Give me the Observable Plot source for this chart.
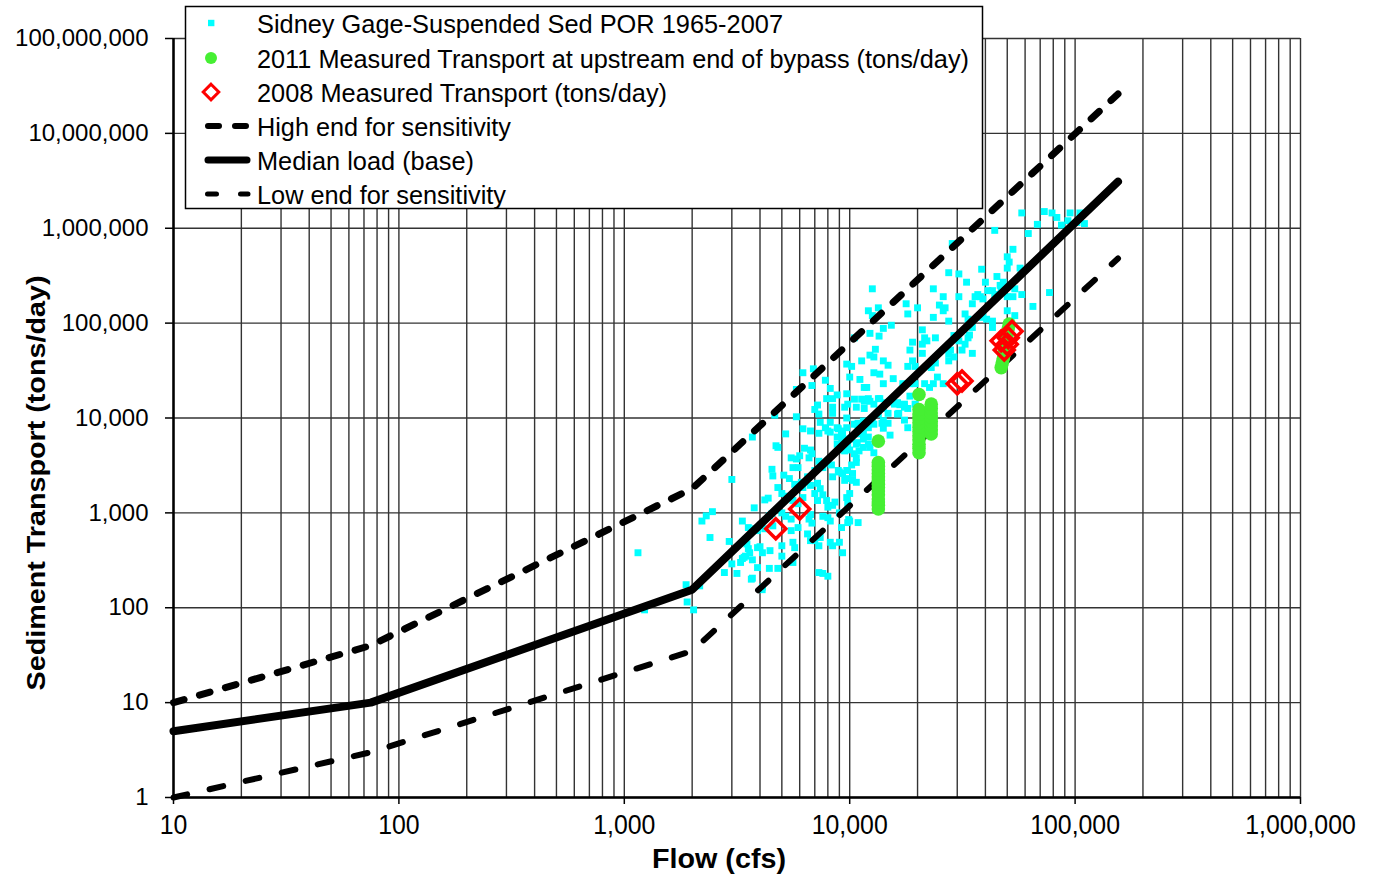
<!DOCTYPE html>
<html>
<head>
<meta charset="utf-8">
<script src="https://cdn.jsdelivr.net/npm/d3@7"></script>
<script src="https://cdn.jsdelivr.net/npm/@observablehq/plot@0.6"></script>
<style>
  html, body { margin: 0; padding: 0; background: #fff; }
  #chart { position: relative; width: 1377px; height: 876px; }
</style>
</head>
<body>
<div id="chart"></div>
<script>
// ---- tick values ----
const xDecades = [10, 100, 1000, 10000, 100000, 1000000];
const yDecades = [1, 10, 100, 1000, 10000, 100000, 1000000, 10000000, 100000000];
const minorMultipliers = [1, 2, 3, 4, 5, 6, 7, 8, 9];

// ---- curves (flow cfs, load tons/day) ----
const highEnd = [[10, 10], [75, 40], [2000, 1800], [155000, 26000000]];
const medianLoad = [[10, 5], [75, 10], [2000, 155], [155000, 3100000]];
const lowEnd = [[10, 1], [75, 3], [2000, 35], [155000, 480000]];

// ---- 2008 measured ----
const measured2008 = [[4700, 680], [6000, 1100], [30000, 23000], [31500, 24500],
  [47000, 65000], [48500, 52000], [50000, 60000], [52500, 82000], [50500, 70000]];

// ---- 2011 measured (upstream end of bypass) ----
const measured2011 = [
  [13400, 1100], [13400, 1200], [13400, 1300], [13400, 1400], [13400, 1550], [13400, 1700],
  [13400, 1850], [13400, 2000], [13400, 2200], [13400, 2400], [13400, 2600], [13400, 2850],
  [13400, 3100], [13400, 3400], [13400, 5700],
  [20300, 4300], [20300, 4800], [20300, 5300], [20300, 5900], [20300, 6500], [20300, 7200],
  [20300, 8000], [20300, 8900], [20300, 9900], [20300, 11000], [20300, 12300], [20300, 17700],
  [23000, 6800], [23000, 7500], [23000, 8300], [23000, 9200], [23000, 10200], [23000, 11300],
  [23000, 12600], [23000, 14000],
  [47000, 34000], [47500, 38000], [48000, 42000], [48500, 47000], [48500, 53000], [49000, 60000],
  [49500, 68000], [50000, 77000], [50500, 87000], [51000, 98000]
];

// ---- Sidney Gage suspended sediment, POR 1965-2007 ----
const sidneyGage = [
  [1150, 380], [1230, 95], [1880, 175], [1900, 115], [2030, 95], [2160, 170], [2210, 820], [2310, 930],
  [2460, 1030], [2400, 550], [3000, 2250], [2920, 500], [3000, 290], [2780, 235], [3160, 230], [3340, 330],
  [3280, 300], [3660, 200], [4090, 155], [3770, 1130], [3550, 700], [3340, 820], [3500, 470], [3550, 420],
  [3600, 380], [3900, 265], [4000, 440], [3800, 680], [4200, 1370], [4350, 1430], [4430, 400], [4560, 730],
  [4520, 980], [4650, 10700], [3700, 6300], [4710, 5100], [4800, 4900], [4520, 2880], [4560, 2450],
  [3900, 650], [3450, 350], [4800, 260],
  [9700, 37000], [10200, 35000], [6200, 30000], [6800, 22000], [5800, 20000], [7800, 25000], [8200, 20500],
  [8400, 16000], [7900, 16000], [9700, 18000], [10500, 15800], [11300, 15800], [11600, 15000], [10700, 13000],
  [9500, 13000], [9800, 14000], [7200, 13700], [7000, 12300], [8400, 11200], [8200, 9000], [7400, 9000],
  [5800, 10300], [6200, 7700], [6700, 7300], [7300, 6900], [5200, 6800], [7800, 7900], [8000, 7300],
  [8800, 7900], [9200, 7300], [9700, 7900], [10500, 8600], [10900, 6800], [10000, 6000], [9300, 6700],
  [8800, 5300], [8900, 4600], [9500, 4500], [10000, 4600], [10700, 5300], [11000, 4500], [10700, 3800],
  [6300, 4800], [6700, 4600], [6800, 4200], [6600, 3800], [5500, 3800], [5800, 3700], [6000, 4000],
  [5600, 3000], [5900, 3000], [7300, 3500], [7600, 3000], [7700, 3300], [7000, 2800], [8300, 3200],
  [8400, 2400], [9000, 2700], [9700, 2800], [9700, 2300], [10300, 2200], [10700, 2100], [5100, 2500],
  [5400, 2300], [5700, 2000], [6100, 2100], [6500, 2400], [6700, 1950], [6200, 1850], [4800, 1850],
  [5000, 1600], [5300, 1500], [5600, 1350], [5900, 1250], [6200, 1450], [7200, 2050], [7400, 1800],
  [7000, 1600], [7600, 1550], [7200, 1350], [7900, 1350], [8000, 1150], [8400, 1200], [9000, 1000],
  [9700, 1450], [9800, 1250], [4400, 930], [6700, 960], [6600, 860], [6800, 780], [7600, 920], [8000, 890],
  [8200, 820], [4200, 680], [5000, 1000], [5200, 920], [5500, 860], [5900, 700], [5500, 650], [6500, 600],
  [6700, 510], [7000, 510], [7400, 550], [7300, 450], [8200, 490], [8400, 450], [9000, 490], [9300, 380],
  [9800, 790], [10900, 790], [3900, 430], [4100, 380], [5000, 450], [5600, 490], [5700, 430], [3400, 340],
  [3700, 320], [5000, 350], [5600, 300], [7300, 235], [7600, 230], [8000, 215], [4400, 260], [3700, 205],
  [4100, 165],
  [6900, 33000], [7300, 11000], [10500, 70000], [11300, 40000], [11900, 21000], [11100, 25500], [10800, 8600],
  [11500, 9300], [12100, 135000], [12600, 120000], [13400, 145000], [12600, 230000], [12300, 78000],
  [13500, 73000], [13000, 53000], [12300, 46000], [12800, 44000], [12800, 30000], [12100, 16000],
  [12300, 15000], [13400, 16000], [12100, 7900], [12800, 8600], [12100, 5300], [12300, 4900],
  [14100, 88000], [15300, 95000], [14800, 36000], [14100, 23000], [15600, 26000], [14400, 14500],
  [16300, 14500], [14100, 9400], [14800, 8800], [15100, 6600], [16300, 11000], [17200, 23000],
  [18500, 23000], [11600, 21000], [8800, 17500], [11600, 12600], [12800, 14000], [13600, 16000],
  [15100, 14700], [15800, 14000], [16700, 13800], [17500, 13000], [18100, 12600], [18500, 17000],
  [14100, 12600], [14800, 11200], [16500, 11200], [17500, 9500], [18100, 7900], [8400, 13000], [9700, 10000],
  [8900, 7700], [10900, 8800], [12600, 9000], [13900, 8800], [14100, 7800], [10900, 7700], [11500, 7000],
  [12100, 6300], [8200, 7100], [8800, 6300], [9300, 5800], [9800, 5000], [10500, 4200], [10200, 3200],
  [10700, 3400], [11500, 4900], [12800, 4300], [8900, 2800], [9300, 2600], [9500, 2200], [8600, 1300],
  [10000, 820], [9200, 700], [10000, 1600], [9900, 850], [10800, 5500], [11500, 6000], [13400, 11000],
  [10000, 27000], [10300, 2600],
  [58000, 1450000], [73000, 1500000], [79000, 1450000], [83000, 1300000], [87000, 1080000], [95000, 1450000],
  [105000, 1450000], [102000, 1150000], [110000, 1120000], [93000, 1200000], [68000, 1100000], [62000, 880000],
  [44000, 950000], [28500, 690000], [53000, 600000], [50000, 500000], [51000, 440000], [50000, 380000],
  [57000, 380000], [27500, 340000], [30500, 330000], [38500, 370000], [45000, 310000], [48000, 270000],
  [46500, 250000], [33000, 270000], [54000, 230000], [58000, 200000], [77000, 210000], [65000, 150000],
  [50000, 190000], [53000, 190000], [40000, 270000], [41000, 220000], [37000, 200000], [38000, 190000],
  [43000, 220000], [44000, 200000], [23500, 230000], [26000, 190000], [25000, 155000], [26500, 145000],
  [30500, 190000], [35000, 160000], [20000, 145000], [17800, 160000], [18100, 125000], [23500, 115000],
  [27500, 105000], [32500, 125000], [33500, 110000], [35000, 90000], [34000, 75000], [38500, 115000],
  [40500, 110000], [43000, 105000], [50000, 135000], [54000, 120000], [19000, 63000], [21000, 60000],
  [22000, 65000], [24000, 70000], [29000, 74000], [30500, 65000], [32500, 60000], [33500, 70000],
  [28000, 52000], [27500, 47000], [29000, 44000], [27500, 40000], [31500, 52000], [35000, 48000],
  [18500, 52000], [19000, 40000], [21000, 48000], [24000, 38000], [23000, 34000], [24500, 27000],
  [26000, 23000], [18100, 35000], [19500, 35000], [14100, 40000], [13600, 29000], [21500, 23000],
  [39000, 125000], [43000, 90000], [39000, 180000], [47000, 230000], [36000, 190000], [26000, 135000],
  [22600, 21000], [23500, 23000], [19500, 23000], [17500, 14000], [19500, 14000], [21000, 85000],
  [21500, 70000]
];

// ---- legend / titles ----
const legendLabels = [
  "Sidney Gage-Suspended Sed POR 1965-2007",
  "2011 Measured Transport at upstream end of bypass (tons/day)",
  "2008 Measured Transport (tons/day)",
  "High end for sensitivity",
  "Median load (base)",
  "Low end for sensitivity"
];
const xTitle = "Flow (cfs)";
const yTitle = "Sediment Transport (tons/day)";

const colCyan = "#00ffff", colGreen = "#46ef33", colRed = "#ff0000";
const gridCol = "#333333";
const fontFam = "'Liberation Sans', Arial, sans-serif";

const minorX = xDecades.slice(0, -1).flatMap(d => minorMultipliers.map(k => k * d)).concat([xDecades[xDecades.length - 1]]);
const fx = d => d[0], fy = d => d[1];

const chart = Plot.plot({
  width: 1377,
  height: 876,
  marginLeft: 173,
  marginRight: 77,
  marginTop: 38,
  marginBottom: 79,
  style: { fontFamily: fontFam, color: "#000", background: "#fff", overflow: "visible" },
  x: { type: "log", domain: [10, 1000000] },
  y: { type: "log", domain: [1, 100000000] },
  marks: [
    Plot.ruleX(minorX, { stroke: gridCol, strokeWidth: 1.4 }),
    Plot.ruleY(yDecades, { stroke: gridCol, strokeWidth: 1.4 }),
    Plot.axisY({ ticks: yDecades, tickSize: 8, tickPadding: 17, tickFormat: d3.format(","), fontSize: 24, label: null, stroke: "#000", strokeWidth: 1.5 }),
    Plot.axisX({ ticks: xDecades, tickSize: 7, tickPadding: 10, tickFormat: d3.format(","), fontSize: 27, label: null, stroke: "#000", strokeWidth: 1.5 }),
    Plot.ruleX([xDecades[0]], { stroke: "#000", strokeWidth: 2.5 }),
    Plot.ruleY([yDecades[0]], { stroke: "#000", strokeWidth: 2.5 }),
    Plot.dot(sidneyGage, { x: fx, y: fy, symbol: "square", r: 3.9, fill: colCyan }),
    Plot.line(highEnd, { x: fx, y: fy, stroke: "#000", strokeWidth: 7, strokeDasharray: "11,16", strokeLinecap: "round" }),
    Plot.line(medianLoad, { x: fx, y: fy, stroke: "#000", strokeWidth: 8, strokeLinecap: "round", strokeLinejoin: "round" }),
    Plot.line(lowEnd, { x: fx, y: fy, stroke: "#000", strokeWidth: 6, strokeDasharray: "14,23", strokeLinecap: "round" }),
    Plot.dot(measured2011, { x: fx, y: fy, r: 6.8, fill: colGreen }),
    Plot.dot(measured2008, { x: fx, y: fy, symbol: "diamond2", r: 9, stroke: colRed, strokeWidth: 3.5, fill: "none" })
  ]
});

document.getElementById("chart").appendChild(chart);
const svg = d3.select(chart);

// condense x tick labels slightly (narrow look of the reference)
svg.selectAll("g[aria-label='x-axis tick label'] text").each(function () {
  const w = this.getComputedTextLength();
  d3.select(this).attr("textLength", w * 0.92).attr("lengthAdjust", "spacingAndGlyphs");
});

// ---- axis titles ----
svg.append("text").attr("x", 719).attr("y", 858).attr("dy", "0.35em")
  .attr("text-anchor", "middle").attr("font-family", fontFam).attr("font-size", 28).attr("font-weight", "bold")
  .attr("textLength", 134).attr("lengthAdjust", "spacingAndGlyphs").attr("fill", "#000").text(xTitle);
svg.append("text").attr("transform", "translate(36,483) rotate(-90)").attr("dy", "0.35em")
  .attr("text-anchor", "middle").attr("font-family", fontFam).attr("font-size", 25).attr("font-weight", "bold")
  .attr("textLength", 415).attr("lengthAdjust", "spacingAndGlyphs").attr("fill", "#000").text(yTitle);

// ---- legend box ----
const lg = svg.append("g").attr("font-family", fontFam).attr("text-anchor", "start");
lg.append("rect").attr("x", 185.5).attr("y", 6.5).attr("width", 797).attr("height", 202)
  .attr("fill", "#fff").attr("stroke", "#000").attr("stroke-width", 1.5);
const rowY = [23, 58, 92, 126, 160, 194];
const textW = [526, 712, 410, 254, 217, 249];
legendLabels.forEach((t, i) => {
  lg.append("text").attr("x", 257).attr("y", rowY[i] + 9.5).attr("font-size", 26.5).attr("text-anchor", "start")
    .attr("textLength", textW[i]).attr("lengthAdjust", "spacingAndGlyphs").attr("fill", "#000").text(t);
});
lg.append("rect").attr("x", 208).attr("y", rowY[0] - 3.2).attr("width", 6.4).attr("height", 6.4).attr("fill", colCyan);
lg.append("circle").attr("cx", 211).attr("cy", rowY[1]).attr("r", 6).attr("fill", colGreen);
lg.append("path").attr("d", d3.symbol(d3.symbolDiamond2, 7 * 7 * Math.PI)())
  .attr("transform", `translate(211,${rowY[2]})`).attr("fill", "none").attr("stroke", colRed).attr("stroke-width", 3);
lg.append("line").attr("x1", 208).attr("x2", 248).attr("y1", rowY[3]).attr("y2", rowY[3])
  .attr("stroke", "#000").attr("stroke-width", 6).attr("stroke-linecap", "round").attr("stroke-dasharray", "11,16");
lg.append("line").attr("x1", 208).attr("x2", 247).attr("y1", rowY[4]).attr("y2", rowY[4])
  .attr("stroke", "#000").attr("stroke-width", 7).attr("stroke-linecap", "round");
lg.append("line").attr("x1", 207.5).attr("x2", 248).attr("y1", rowY[5]).attr("y2", rowY[5])
  .attr("stroke", "#000").attr("stroke-width", 5).attr("stroke-linecap", "round").attr("stroke-dasharray", "9,24");
</script>
</body>
</html>
